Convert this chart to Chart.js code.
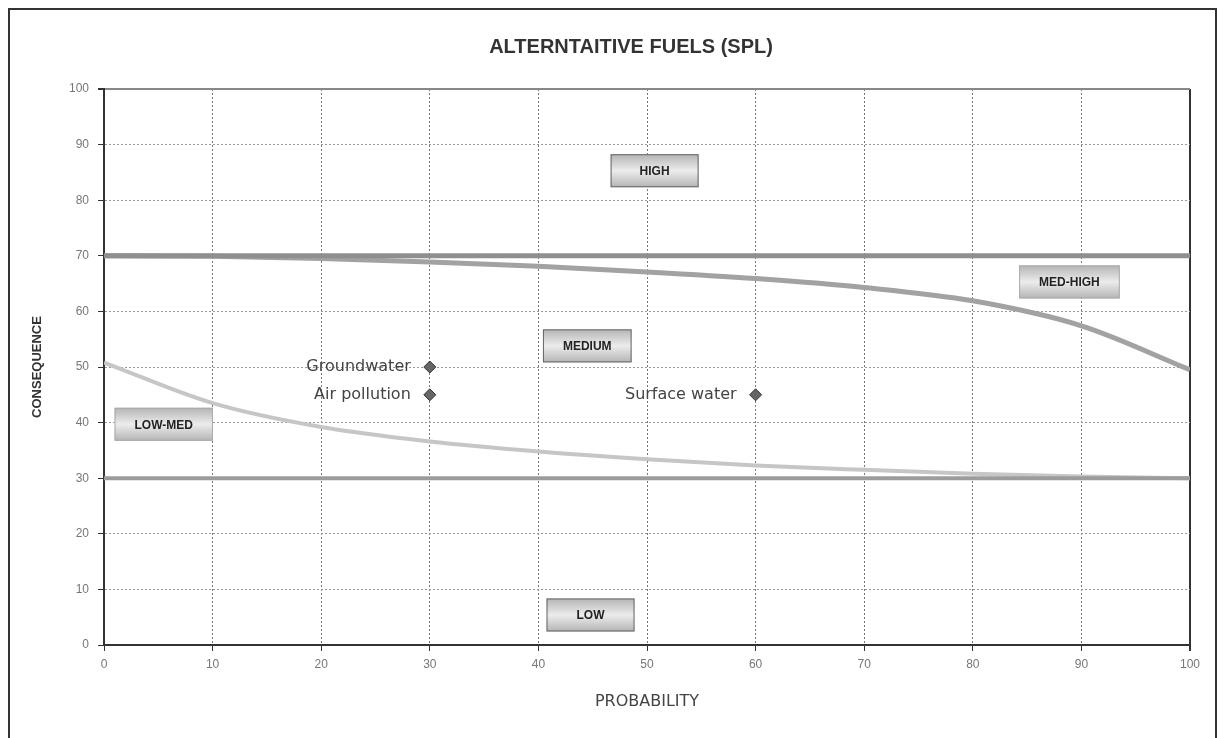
<!DOCTYPE html>
<html>
<head>
<meta charset="utf-8">
<script src="https://cdn.jsdelivr.net/npm/chart.js@4.4.1/dist/chart.umd.min.js"></script>
<style>
  body { margin: 0; background: #fff; overflow: hidden; }
  #wrap { position: relative; width: 1226px; height: 738px; }
  #frame {
    position: absolute; left: 8px; top: 8px; width: 1209px; height: 760px;
    border: 2px solid #333; box-sizing: border-box;
  }
  canvas { position: absolute; left: 0; top: 0; }
</style>
</head>
<body>
<div id="wrap">
  <div id="frame"></div>
  <canvas id="riskChart" width="1226" height="738"></canvas>
</div>
<script>
"use strict";

// probability (x) / consequence (y)
const curveProb = [0, 10, 20, 30, 40, 50, 60, 70, 80, 90, 100];
const upperCurve = [70, 69.9, 69.5, 68.9, 68.1, 67.1, 65.9, 64.3, 61.9, 57.4, 49.5];
const lowerCurve = [50.8, 43.5, 39.2, 36.6, 34.8, 33.4, 32.3, 31.5, 30.8, 30.3, 30];

const limitProb = [0, 100];
const highLimit = [70, 70];
const lowLimit = [30, 30];

const riskNames = ["Groundwater", "Air pollution", "Surface water"];
const riskProb = [30, 30, 60];
const riskCons = [50, 45, 45];

const zoneNames = ["HIGH", "MED-HIGH", "MEDIUM", "LOW-MED", "LOW"];
const zoneProb = [50.7, 88.9, 44.5, 5.5, 44.8];
const zoneCons = [85.3, 65.3, 53.8, 39.7, 5.4];

const chartTitle = "ALTERNTAITIVE FUELS (SPL)";

const FONT = "'Liberation Sans', Arial, sans-serif";
const WIDE = "'DejaVu Sans', Verdana, sans-serif";

const toPoints = (xs, ys) => xs.map((x, i) => ({ x: x, y: ys[i] }));

const lineSet = (xs, ys, color, width) => ({
  data: toPoints(xs, ys),
  showLine: true,
  borderColor: color,
  borderWidth: width,
  pointRadius: 0,
  cubicInterpolationMode: "monotone",
  fill: false,
});

// title over the plot, text labels for the risks and the grey zone boxes
const labelPlugin = {
  id: "labels",
  afterDatasetsDraw(chart) {
    const { ctx, scales, chartArea } = chart;
    const x = scales.x;
    const y = scales.y;
    ctx.save();

    ctx.font = "bold 20px " + FONT;
    ctx.fillStyle = "#333";
    ctx.textAlign = "center";
    ctx.textBaseline = "middle";
    ctx.fillText(chartTitle, (chartArea.left + chartArea.right) / 2 - 16, 47);

    ctx.font = "16px " + WIDE;
    ctx.fillStyle = "#444";
    ctx.textAlign = "right";
    riskNames.forEach((name, i) => {
      ctx.fillText(name, x.getPixelForValue(riskProb[i]) - 19, y.getPixelForValue(riskCons[i]));
    });

    ctx.font = "bold 12px " + FONT;
    ctx.textAlign = "center";
    zoneNames.forEach((name, i) => {
      const cx = x.getPixelForValue(zoneProb[i]);
      const cy = y.getPixelForValue(zoneCons[i]);
      const w = Math.max(88, ctx.measureText(name).width + 40);
      const h = 33;
      const g = ctx.createLinearGradient(0, cy - h / 2, 0, cy + h / 2);
      g.addColorStop(0, "#b4b4b4");
      g.addColorStop(0.5, "#ececec");
      g.addColorStop(1, "#b4b4b4");
      ctx.fillStyle = g;
      ctx.fillRect(cx - w / 2, cy - h / 2, w, h);
      ctx.strokeStyle = name.includes("-") ? "#aaa" : "#666";
      ctx.lineWidth = 1;
      ctx.strokeRect(cx - w / 2 + 0.5, cy - h / 2 + 0.5, w - 1, h - 1);
      ctx.fillStyle = "#222";
      ctx.fillText(name, cx, cy + 1);
    });
    ctx.restore();
  },
};

const edgeDash = (ctx) =>
  ctx.tick && (ctx.tick.value === 0 || ctx.tick.value === 100) ? [] : [2, 2];

new Chart("riskChart", {
  type: "scatter",
  data: {
    datasets: [
      lineSet(limitProb, highLimit, "#8f8f8f", 5),
      lineSet(limitProb, lowLimit, "#9c9c9c", 4),
      lineSet(curveProb, upperCurve, "#a2a2a2", 5),
      lineSet(curveProb, lowerCurve, "#c6c6c6", 4),
      {
        data: toPoints(riskProb, riskCons),
        pointStyle: "rectRot",
        pointRadius: 6,
        backgroundColor: "#666",
        borderColor: "#333",
        borderWidth: 1,
      },
    ],
  },
  options: {
    responsive: false,
    animation: false,
    layout: { padding: { left: 20, right: 36, top: 89, bottom: 0 } },
    plugins: {
      legend: { display: false },
      tooltip: { enabled: false },
      title: { display: false },
    },
    scales: {
      x: {
        type: "linear",
        min: 0,
        max: 100,
        ticks: { stepSize: 10, color: "#777", padding: 6, font: { family: FONT, size: 12 } },
        grid: {
          color: (ctx) => (ctx.tick && ctx.tick.value === 100 ? "#333" : "#777"),
          lineWidth: (ctx) => (ctx.tick && ctx.tick.value === 100 ? 2 : 1),
          tickLength: 6,
          tickColor: "#333",
        },
        border: { color: "#333", width: 2, dash: edgeDash },
        title: {
          display: true,
          text: "PROBABILITY",
          color: "#444",
          font: { family: WIDE, size: 16 },
          padding: { bottom: 27 },
        },
        afterFit(scale) {
          scale.height = 93;
        },
      },
      y: {
        min: 0,
        max: 100,
        ticks: { stepSize: 10, color: "#777", padding: 9, font: { family: FONT, size: 12 } },
        grid: {
          color: (ctx) => (ctx.tick && ctx.tick.value === 100 ? "#888" : "#999"),
          lineWidth: (ctx) => (ctx.tick && ctx.tick.value === 100 ? 2 : 1),
          tickLength: 6,
          tickColor: "#333",
        },
        border: { color: "#333", width: 2, dash: edgeDash },
        title: {
          display: true,
          text: "CONSEQUENCE",
          color: "#333",
          font: { family: FONT, size: 13, weight: "bold" },
          padding: { top: 10 },
        },
        afterFit(scale) {
          scale.width = 84;
        },
      },
    },
  },
  plugins: [labelPlugin],
});
</script>
</body>
</html>
